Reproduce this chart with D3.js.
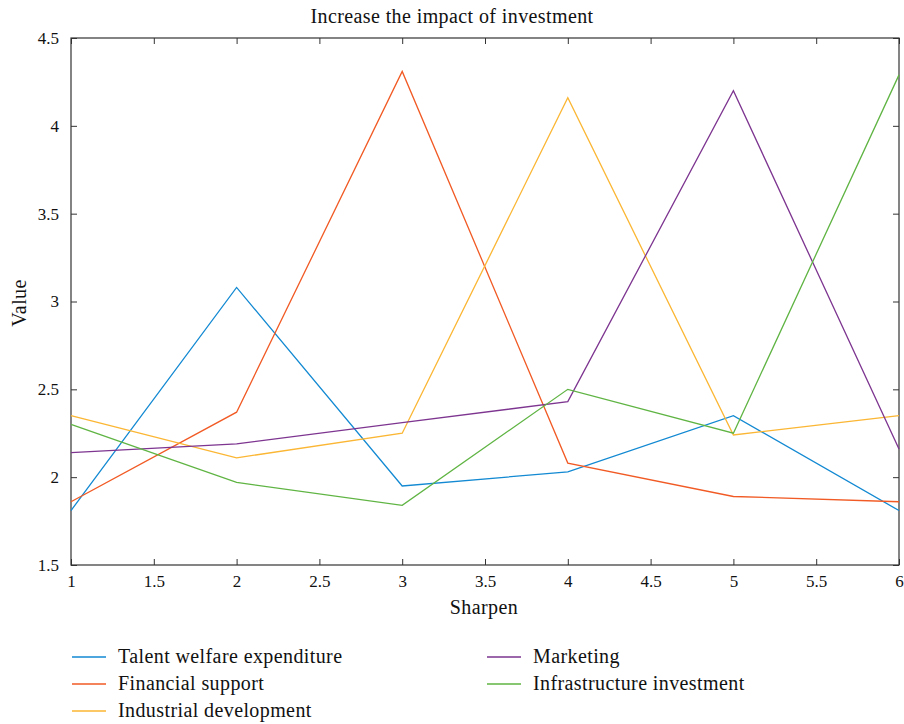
<!DOCTYPE html>
<html>
<head>
<meta charset="utf-8">
<script src="https://cdn.jsdelivr.net/npm/d3@7"></script>
<style>
  body { margin: 0; background: #fff; }
  svg text { font-family: "Liberation Serif", "DejaVu Serif", serif; fill: #111; }
  .lbl { font-size: 20px; letter-spacing: 0.4px; }
</style>
</head>
<body>
<div id="chart"></div>
<script>
// x positions and series values
const xValues = [1, 2, 3, 4, 5, 6];
const talentWelfare   = [1.81, 3.08, 1.95, 2.03, 2.35, 1.81];
const financialSupport = [1.86, 2.37, 4.31, 2.08, 1.89, 1.86];
const industrialDev   = [2.35, 2.11, 2.25, 4.16, 2.24, 2.35];
const marketing       = [2.14, 2.19, 2.31, 2.43, 4.20, 2.16];
const infrastructure  = [2.30, 1.97, 1.84, 2.50, 2.25, 4.29];

const xTicks = [1, 1.5, 2, 2.5, 3, 3.5, 4, 4.5, 5, 5.5, 6];
const yTicks = [1.5, 2, 2.5, 3, 3.5, 4, 4.5];

const seriesNames = ["Talent welfare expenditure", "Financial support", "Industrial development",
                     "Marketing", "Infrastructure investment"];
const seriesValues = [talentWelfare, financialSupport, industrialDev, marketing, infrastructure];
const colors = ["#1289d2", "#f15a24", "#fbb633", "#7d3590", "#5fb443"];

const width = 904, height = 724;
const margin = { top: 38, right: 5, bottom: 159, left: 71 };
const innerW = width - margin.left - margin.right;
const innerH = height - margin.top - margin.bottom;

const svg = d3.select("#chart").append("svg")
    .attr("width", width).attr("height", height);

const g = svg.append("g").attr("transform", `translate(${margin.left},${margin.top})`);

const x = d3.scaleLinear().domain([1, 6]).range([0, innerW]);
const y = d3.scaleLinear().domain([1.5, 4.5]).range([innerH, 0]);

// ticks pointing inward on all four sides
const fmt = d => String(d);
const tickLen = 6;
g.append("g").attr("transform", `translate(0,${innerH})`)
    .call(d3.axisBottom(x).tickValues(xTicks).tickFormat(fmt).tickSizeInner(-tickLen).tickSizeOuter(0).tickPadding(10))
    .call(a => a.select(".domain").remove())
    .selectAll("text").style("font-size", "17px");
g.append("g")
    .call(d3.axisTop(x).tickValues(xTicks).tickFormat("").tickSizeInner(-tickLen).tickSizeOuter(0))
    .call(a => a.select(".domain").remove());
g.append("g")
    .call(d3.axisLeft(y).tickValues(yTicks).tickFormat(fmt).tickSizeInner(-tickLen).tickSizeOuter(0).tickPadding(12))
    .call(a => a.select(".domain").remove())
    .selectAll("text").style("font-size", "17px");
g.append("g").attr("transform", `translate(${innerW},0)`)
    .call(d3.axisRight(y).tickValues(yTicks).tickFormat("").tickSizeInner(-tickLen).tickSizeOuter(0))
    .call(a => a.select(".domain").remove());
g.selectAll(".tick line").attr("stroke", "#333");

// box
g.append("rect").attr("width", innerW).attr("height", innerH)
    .attr("fill", "none").attr("stroke", "#333").attr("stroke-width", 1.2);

const line = d3.line().x((d, i) => x(xValues[i])).y(d => y(d));
seriesValues.forEach((vals, i) => {
    g.append("path").datum(vals)
        .attr("d", line)
        .attr("fill", "none")
        .attr("stroke", colors[i])
        .attr("stroke-width", 1.3);
});

// title and axis labels
svg.append("text").attr("class", "lbl").attr("x", 452).attr("y", 23)
    .attr("text-anchor", "middle")
    .text("Increase the impact of investment");
svg.append("text").attr("class", "lbl").attr("x", 484).attr("y", 614)
    .attr("text-anchor", "middle")
    .text("Sharpen");
svg.append("text").attr("class", "lbl").attr("transform", "rotate(-90)")
    .attr("x", -303).attr("y", 26)
    .attr("text-anchor", "middle")
    .text("Value");

// legend, two columns
const legend = svg.append("g");
seriesNames.forEach((name, i) => {
    const col = i < 3 ? 0 : 1;
    const row = i < 3 ? i : i - 3;
    const lx = col === 0 ? 72 : 487;
    const ly = 657 + row * 27;
    legend.append("line")
        .attr("x1", lx).attr("x2", lx + 34)
        .attr("y1", ly).attr("y2", ly)
        .attr("stroke", colors[i]).attr("stroke-width", 1.5);
    legend.append("text").attr("class", "lbl")
        .attr("x", lx + 46).attr("y", ly + 6)
        .text(name);
});
</script>
</body>
</html>
